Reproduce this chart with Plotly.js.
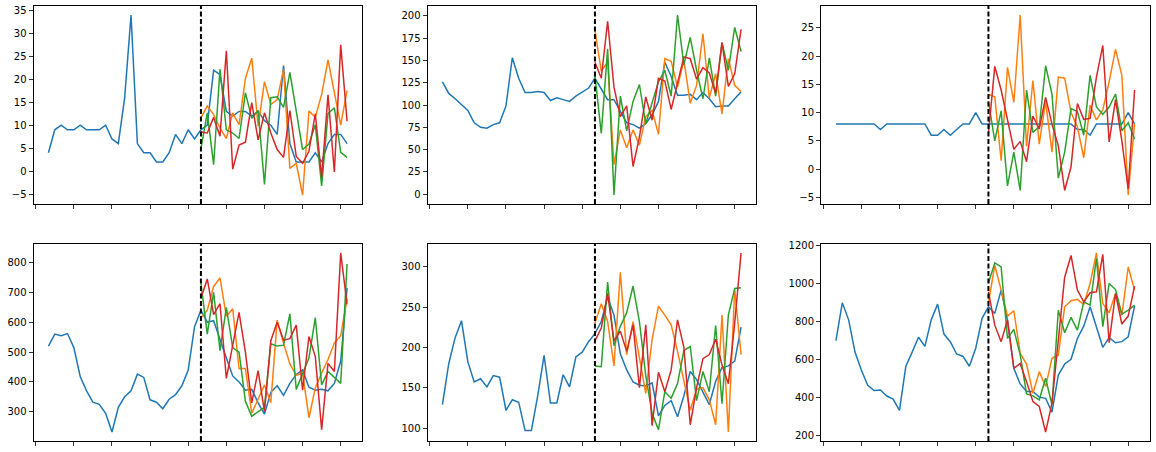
<!DOCTYPE html>
<html>
<head>
<meta charset="utf-8">
<script src="https://cdn.plot.ly/plotly-3.0.1.min.js"></script>
<style>
  html, body { margin: 0; padding: 0; background: #fff; }
  #chart { width: 1156px; height: 452px; }
</style>
</head>
<body>
<div id="chart"></div>
<script>
// history runs over 48 steps, forecasts start at step 24 (dashed line)
var forecastStart = 24;

// panel 1
var obs1 = [4, 9, 10, 9, 9, 10, 9, 9, 9, 10, 7, 6, 16, 34, 6, 4, 4, 2, 2, 4, 8, 6, 9, 7,
            9, 10, 22, 21, 13, 12, 13, 13, 12, 13, 11, 10, 8, 23, 6, 2, 2, 2, 4, 2, 6, 8, 8, 6];
var orange1 = [11.6, 14.2, 12.3, 9.4, 7.1, 12.7, 10.1, 20.2, 24.6, 9.8, 19.5, 14.5, 15.6, 22.1, 0.6, 1.7, -5.2, 13.1, 11.7, 16.7, 24.2, 17.1, 10.0, 17.6];
var green1 = [4.9, 12.7, 1.4, 22.2, 9.0, 8.3, 7.1, 17.1, 11.5, 13.2, -2.9, 16.0, 16.2, 13.9, 21.5, 13.1, 4.7, 5.9, 10.1, -3.2, 12.5, 13.8, 4.1, 3.0];
var red1 = [8.5, 8.3, 11.7, 7.6, 26.2, 0.4, 5.7, 6.3, 14.9, 6.8, 12.7, 8.3, 4.7, 3.0, 13.2, 3.2, 1.7, 4.3, 12.5, -1.4, 16.6, -0.2, 27.5, 10.9];

// panel 2
var obs2 = [126, 113, 107, 101, 94, 80, 75, 74, 78, 80, 99, 153, 130, 114, 114, 115, 114, 105, 108, 106, 104, 110, 115, 119,
            130, 118, 106, 106, 93, 80, 78, 74, 79, 89, 104, 148, 132, 111, 111, 112, 106, 114, 107, 98, 99, 99, 107, 115];
var orange2 = [184, 138, 148, 33, 72, 52, 72, 55, 87, 94, 67, 152, 149, 120, 150, 102, 122, 180, 108, 135, 90, 152, 122, 115];
var green2 = [133, 68, 163, -1, 110, 71, 104, 123, 79, 104, 126, 139, 110, 201, 145, 176, 139, 107, 153, 110, 170, 139, 187, 160];
var red2 = [148, 130, 194, 120, 87, 99, 31, 64, 109, 83, 130, 127, 95, 126, 154, 152, 129, 142, 136, 113, 170, 121, 135, 185];

// panel 3
var obs3 = [8, 8, 8, 8, 8, 8, 8, 7, 8, 8, 8, 8, 8, 8, 8, 6, 6, 7, 6, 7, 8, 8, 10, 8,
            8, 8, 8, 8, 8, 8, 8, 8, 8, 8, 8, 8, 8, 8, 7, 7, 6, 8, 8, 8, 8, 8, 10, 8];
var orange3 = [13.2, 12.8, 1.5, 18, 11.8, 27.3, 4, 15.7, 4.4, 12, 3, 16.3, 16.1, 10, 7.5, 2, 11.3, 8.7, 10.5, 15.5, 21.2, 16.6, -4.6, 8];
var green3 = [12, 5, 10.3, -3, 3, -3.8, 14, 6.5, 7.5, 18.3, 13.3, -1.6, 3, 10.7, 10.2, 6, 16.6, 11, 9.7, 11, 13.3, 6.8, 8.2, 5.3];
var red3 = [6.3, 18.2, 14, 8.6, 3.5, 4.9, 1.3, 9.4, 7.1, 12.7, 8, 4.1, -3.8, 0.4, 11.6, 8.8, 9, 16.3, 21.9, 4.8, 12.3, 5, -3.5, 14];

// panel 4
var obs4 = [520, 560, 555, 562, 515, 418, 370, 332, 325, 295, 232, 315, 350, 370, 426, 415, 340, 332, 310, 342, 357, 387, 440, 585,
            640, 600, 605, 540, 480, 420, 400, 372, 375, 330, 292, 365, 387, 355, 395, 425, 440, 382, 372, 375, 370, 395, 470, 715];
var orange4 = [615, 640, 720, 748, 620, 645, 445, 445, 295, 345, 390, 330, 607, 530, 460, 422, 430, 280, 380, 430, 475, 530, 555, 680];
var green4 = [730, 560, 700, 505, 650, 515, 500, 335, 285, 300, 315, 528, 520, 523, 628, 375, 430, 480, 615, 390, 435, 415, 395, 795];
var red4 = [680, 745, 625, 662, 412, 520, 633, 500, 330, 438, 300, 538, 600, 540, 545, 590, 372, 552, 485, 240, 462, 435, 832, 660];

// panel 5
var obs5 = [129, 180, 212, 233, 182, 157, 161, 151, 165, 163, 122, 135, 132, 97, 97, 140, 190, 131, 131, 166, 151, 188, 194, 207,
            217, 232, 262, 240, 192, 172, 157, 153, 152, 156, 115, 128, 134, 114, 140, 170, 160, 145, 129, 158, 175, 177, 183, 225];
var orange5 = [230, 254, 232, 177, 293, 191, 232, 185, 143, 210, 251, 240, 228, 195, 160, 122, 148, 150, 135, 104, 240, 95, 272, 191];
var green5 = [177, 176, 281, 202, 226, 243, 276, 232, 165, 118, 98, 145, 137, 155, 196, 201, 134, 170, 145, 227, 130, 240, 273, 274];
var red5 = [208, 224, 267, 208, 220, 195, 228, 150, 228, 103, 169, 145, 172, 234, 200, 104, 150, 186, 191, 210, 178, 155, 230, 317];

// panel 6
var obs6 = [700, 900, 810, 640, 545, 465, 437, 440, 408, 392, 332, 565, 640, 718, 670, 810, 893, 735, 695, 630, 617, 565, 660, 818,
            879, 844, 967, 809, 554, 472, 432, 432, 402, 396, 323, 519, 577, 602, 712, 777, 879, 774, 665, 716, 689, 695, 721, 884];
var orange6 = [900, 1098, 967, 830, 858, 633, 577, 423, 537, 458, 607, 625, 879, 911, 918, 891, 1002, 1163, 896, 847, 949, 835, 1089, 967];
var green6 = [1005, 1111, 1089, 712, 760, 625, 419, 409, 388, 502, 361, 861, 742, 823, 756, 905, 888, 1133, 774, 1002, 970, 840, 861, 888];
var red6 = [958, 782, 695, 809, 554, 580, 484, 379, 353, 218, 370, 700, 1035, 1150, 967, 905, 953, 958, 1156, 690, 949, 788, 830, 988];

var panels = [
    {obs: obs1, fc: [orange1, green1, red1], dtick: 5},
    {obs: obs2, fc: [orange2, green2, red2], dtick: 25},
    {obs: obs3, fc: [orange3, green3, red3], dtick: 5},
    {obs: obs4, fc: [orange4, green4, red4], dtick: 100},
    {obs: obs5, fc: [orange5, green5, red5], dtick: 50},
    {obs: obs6, fc: [orange6, green6, red6], dtick: 200}
];

var colors = ['#1f77b4', '#ff7f0e', '#2ca02c', '#d62728'];

// axes boxes in pixels, matplotlib subplot grid
var W = 1156, H = 452;
var cols = [[33.5, 362], [427.5, 756], [821, 1149.5]];
var rows = [[6, 204], [244, 441]];

function range(n, start) {
    var out = [];
    for (var i = 0; i < n; i++) out.push(start + i);
    return out;
}

// same 5% autoscale margin as matplotlib
function padRange(arrs) {
    var lo = Infinity, hi = -Infinity;
    arrs.forEach(function (a) {
        a.forEach(function (v) { lo = Math.min(lo, v); hi = Math.max(hi, v); });
    });
    var pad = (hi - lo) * 0.05;
    return [lo - pad, hi + pad];
}

var data = [];
var shapes = [];
var layout = {
    width: W,
    height: H,
    margin: {l: 0, r: 0, t: 0, b: 0},
    paper_bgcolor: '#fff',
    plot_bgcolor: '#fff',
    showlegend: false,
    font: {family: 'DejaVu Sans', size: 10, color: '#000'}
};

panels.forEach(function (p, k) {
    var n = k + 1;
    var xa = 'x' + (n === 1 ? '' : n), ya = 'y' + (n === 1 ? '' : n);
    var col = cols[k % 3], row = rows[Math.floor(k / 3)];
    var xObs = range(p.obs.length, 0);
    var xFc = range(p.fc[0].length, forecastStart);

    data.push({type: 'scatter', mode: 'lines', x: xObs, y: p.obs, xaxis: xa, yaxis: ya,
               line: {color: colors[0], width: 1.5}, hoverinfo: 'none'});
    p.fc.forEach(function (s, j) {
        data.push({type: 'scatter', mode: 'lines', x: xFc, y: s, xaxis: xa, yaxis: ya,
                   line: {color: colors[j + 1], width: 1.5}, hoverinfo: 'none'});
    });

    var xmax = xObs.length - 1;
    var axisCommon = {
        showline: true, mirror: true, linecolor: '#000', linewidth: 1,
        showgrid: false, zeroline: false,
        ticks: 'outside', ticklen: 4, tickwidth: 0.8, tickcolor: '#000'
    };
    layout['xaxis' + (n === 1 ? '' : n)] = Object.assign({}, axisCommon, {
        domain: [col[0] / W, col[1] / W],
        anchor: ya,
        range: [-0.05 * xmax, xmax * 1.05],
        tick0: -2, dtick: 6,
        showticklabels: false
    });
    layout['yaxis' + (n === 1 ? '' : n)] = Object.assign({}, axisCommon, {
        domain: [1 - row[1] / H, 1 - row[0] / H],
        anchor: xa,
        range: padRange([p.obs].concat(p.fc)),
        dtick: p.dtick,
        tickfont: {family: 'DejaVu Sans', size: 10, color: '#000'}
    });

    // forecast origin
    shapes.push({type: 'line', xref: xa, yref: ya + ' domain', x0: forecastStart, x1: forecastStart, y0: 0, y1: 1,
                 line: {color: '#000', width: 2, dash: '5px,2.5px'}});
});

layout.shapes = shapes;

Plotly.newPlot('chart', data, layout, {displayModeBar: false, staticPlot: true});
</script>
</body>
</html>
